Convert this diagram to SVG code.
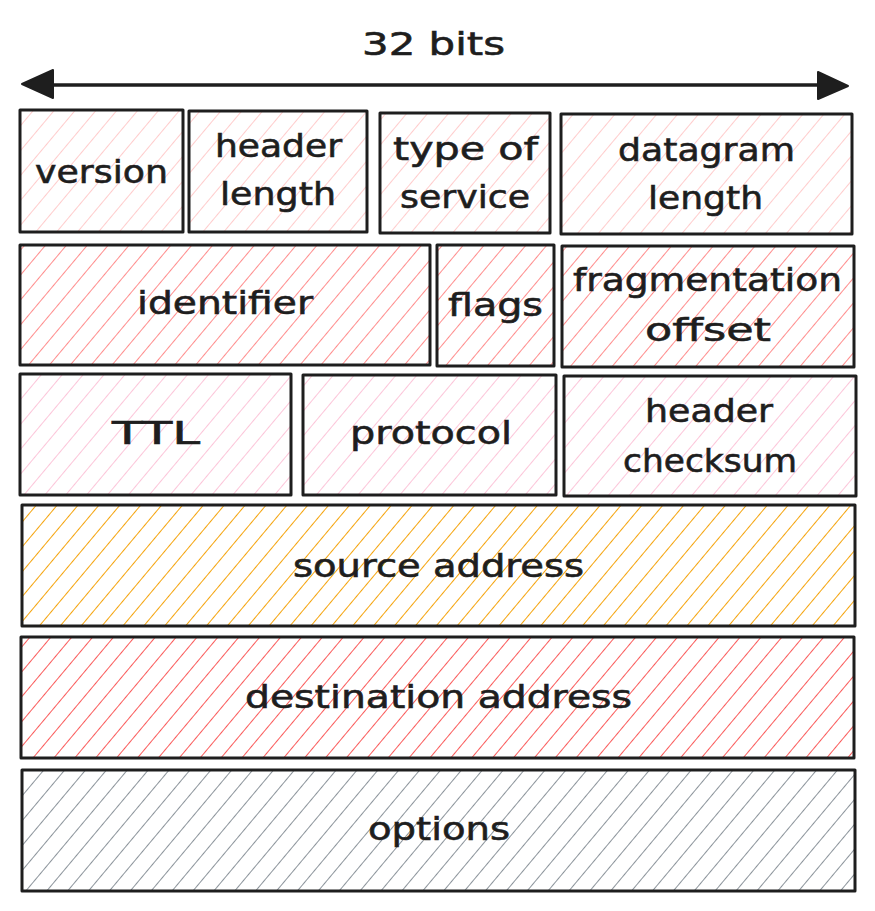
<svg xmlns="http://www.w3.org/2000/svg" width="875" height="911" viewBox="0 0 875 911">
<style>
.box{stroke:#1e1e1e;stroke-width:3;stroke-linejoin:round}
.lbl{font-family:"DejaVu Sans","Liberation Sans",sans-serif;font-size:32px;fill:#1e1e1e;text-anchor:middle;stroke:#1e1e1e;stroke-width:0.6}
.hl{stroke-width:1.9}
</style>
<defs>
<pattern id="hPink" patternUnits="userSpaceOnUse" width="16" height="16" patternTransform="rotate(40)"><line class="hl" x1="0" y1="0" x2="0" y2="16" stroke="#ffc9c9"/></pattern>
<pattern id="hRed" patternUnits="userSpaceOnUse" width="16" height="16" patternTransform="rotate(40)"><line class="hl" x1="0" y1="0" x2="0" y2="16" stroke="#ff8787"/></pattern>
<pattern id="hRose" patternUnits="userSpaceOnUse" width="16" height="16" patternTransform="rotate(40)"><line class="hl" x1="0" y1="0" x2="0" y2="16" stroke="#fcc2d7"/></pattern>
<pattern id="hYellow" patternUnits="userSpaceOnUse" width="16" height="16" patternTransform="rotate(40)"><line class="hl" x1="0" y1="0" x2="0" y2="16" stroke="#f59f00"/></pattern>
<pattern id="hCrimson" patternUnits="userSpaceOnUse" width="16" height="16" patternTransform="rotate(40)"><line class="hl" x1="0" y1="0" x2="0" y2="16" stroke="#fa5252"/></pattern>
<pattern id="hGray" patternUnits="userSpaceOnUse" width="16" height="16" patternTransform="rotate(40)"><line class="hl" x1="0" y1="0" x2="0" y2="16" stroke="#868e96"/></pattern>
</defs>
<rect width="875" height="911" fill="#ffffff"/>

<g id="width-label">
<text class="lbl" x="433.5" y="55" textLength="143" lengthAdjust="spacingAndGlyphs">32 bits</text>
</g>

<g id="connectors">
<line x1="40" y1="85" x2="830" y2="85" stroke="#1e1e1e" stroke-width="3.5"/>
<polygon points="22,84 53,70 53,98" fill="#1e1e1e" stroke="#1e1e1e" stroke-width="2" stroke-linejoin="round"/>
<polygon points="848,86 818,72 818,99" fill="#1e1e1e" stroke="#1e1e1e" stroke-width="2" stroke-linejoin="round"/>
</g>

<g id="version">
<rect class="box" x="20" y="110" width="163" height="122" fill="url(#hPink)"/>
<text class="lbl" x="101.5" y="183" textLength="133" lengthAdjust="spacingAndGlyphs">version</text>
</g>
<g id="header-length">
<rect class="box" x="189" y="111" width="178" height="121" fill="url(#hPink)"/>
<text class="lbl" x="278.5" y="157" textLength="127" lengthAdjust="spacingAndGlyphs">header</text>
<text class="lbl" x="278" y="205" textLength="116" lengthAdjust="spacingAndGlyphs">length</text>
</g>
<g id="type-of-service">
<rect class="box" x="380" y="113" width="170" height="120" fill="url(#hPink)"/>
<text class="lbl" x="465.5" y="160" textLength="145" lengthAdjust="spacingAndGlyphs">type of</text>
<text class="lbl" x="465" y="208" textLength="130" lengthAdjust="spacingAndGlyphs">service</text>
</g>
<g id="datagram-length">
<rect class="box" x="561" y="114" width="291" height="120" fill="url(#hPink)"/>
<text class="lbl" x="706.5" y="161" textLength="177" lengthAdjust="spacingAndGlyphs">datagram</text>
<text class="lbl" x="705.5" y="209" textLength="115" lengthAdjust="spacingAndGlyphs">length</text>
</g>

<g id="identifier">
<rect class="box" x="20" y="245" width="410" height="120" fill="url(#hRed)"/>
<text class="lbl" x="225" y="314" textLength="176" lengthAdjust="spacingAndGlyphs">identifier</text>
</g>
<g id="flags">
<rect class="box" x="437" y="245" width="117" height="121" fill="url(#hRed)"/>
<text class="lbl" x="495.5" y="316" textLength="95" lengthAdjust="spacingAndGlyphs">flags</text>
</g>
<g id="fragmentation-offset">
<rect class="box" x="562" y="246" width="292" height="121" fill="url(#hRed)"/>
<text class="lbl" x="707.5" y="291" textLength="269" lengthAdjust="spacingAndGlyphs">fragmentation</text>
<text class="lbl" x="708" y="341" textLength="126" lengthAdjust="spacingAndGlyphs">offset</text>
</g>

<g id="ttl">
<rect class="box" x="20" y="374" width="271" height="121" fill="url(#hRose)"/>
<text class="lbl" x="156" y="444" textLength="88" lengthAdjust="spacingAndGlyphs">TTL</text>
</g>
<g id="protocol">
<rect class="box" x="303" y="375" width="253" height="120" fill="url(#hRose)"/>
<text class="lbl" x="431" y="444" textLength="162" lengthAdjust="spacingAndGlyphs">protocol</text>
</g>
<g id="header-checksum">
<rect class="box" x="564" y="376" width="292" height="120" fill="url(#hRose)"/>
<text class="lbl" x="709" y="422" textLength="128" lengthAdjust="spacingAndGlyphs">header</text>
<text class="lbl" x="710" y="472" textLength="174" lengthAdjust="spacingAndGlyphs">checksum</text>
</g>

<g id="source-address">
<rect class="box" x="22" y="505" width="833" height="121" fill="url(#hYellow)"/>
<text class="lbl" x="438.5" y="577" textLength="291" lengthAdjust="spacingAndGlyphs">source address</text>
</g>
<g id="destination-address">
<rect class="box" x="21" y="637" width="833" height="121" fill="url(#hCrimson)"/>
<text class="lbl" x="438.5" y="708" textLength="387" lengthAdjust="spacingAndGlyphs">destination address</text>
</g>
<g id="options">
<rect class="box" x="22" y="770" width="833" height="121" fill="url(#hGray)"/>
<text class="lbl" x="439" y="840" textLength="142" lengthAdjust="spacingAndGlyphs">options</text>
</g>
</svg>
